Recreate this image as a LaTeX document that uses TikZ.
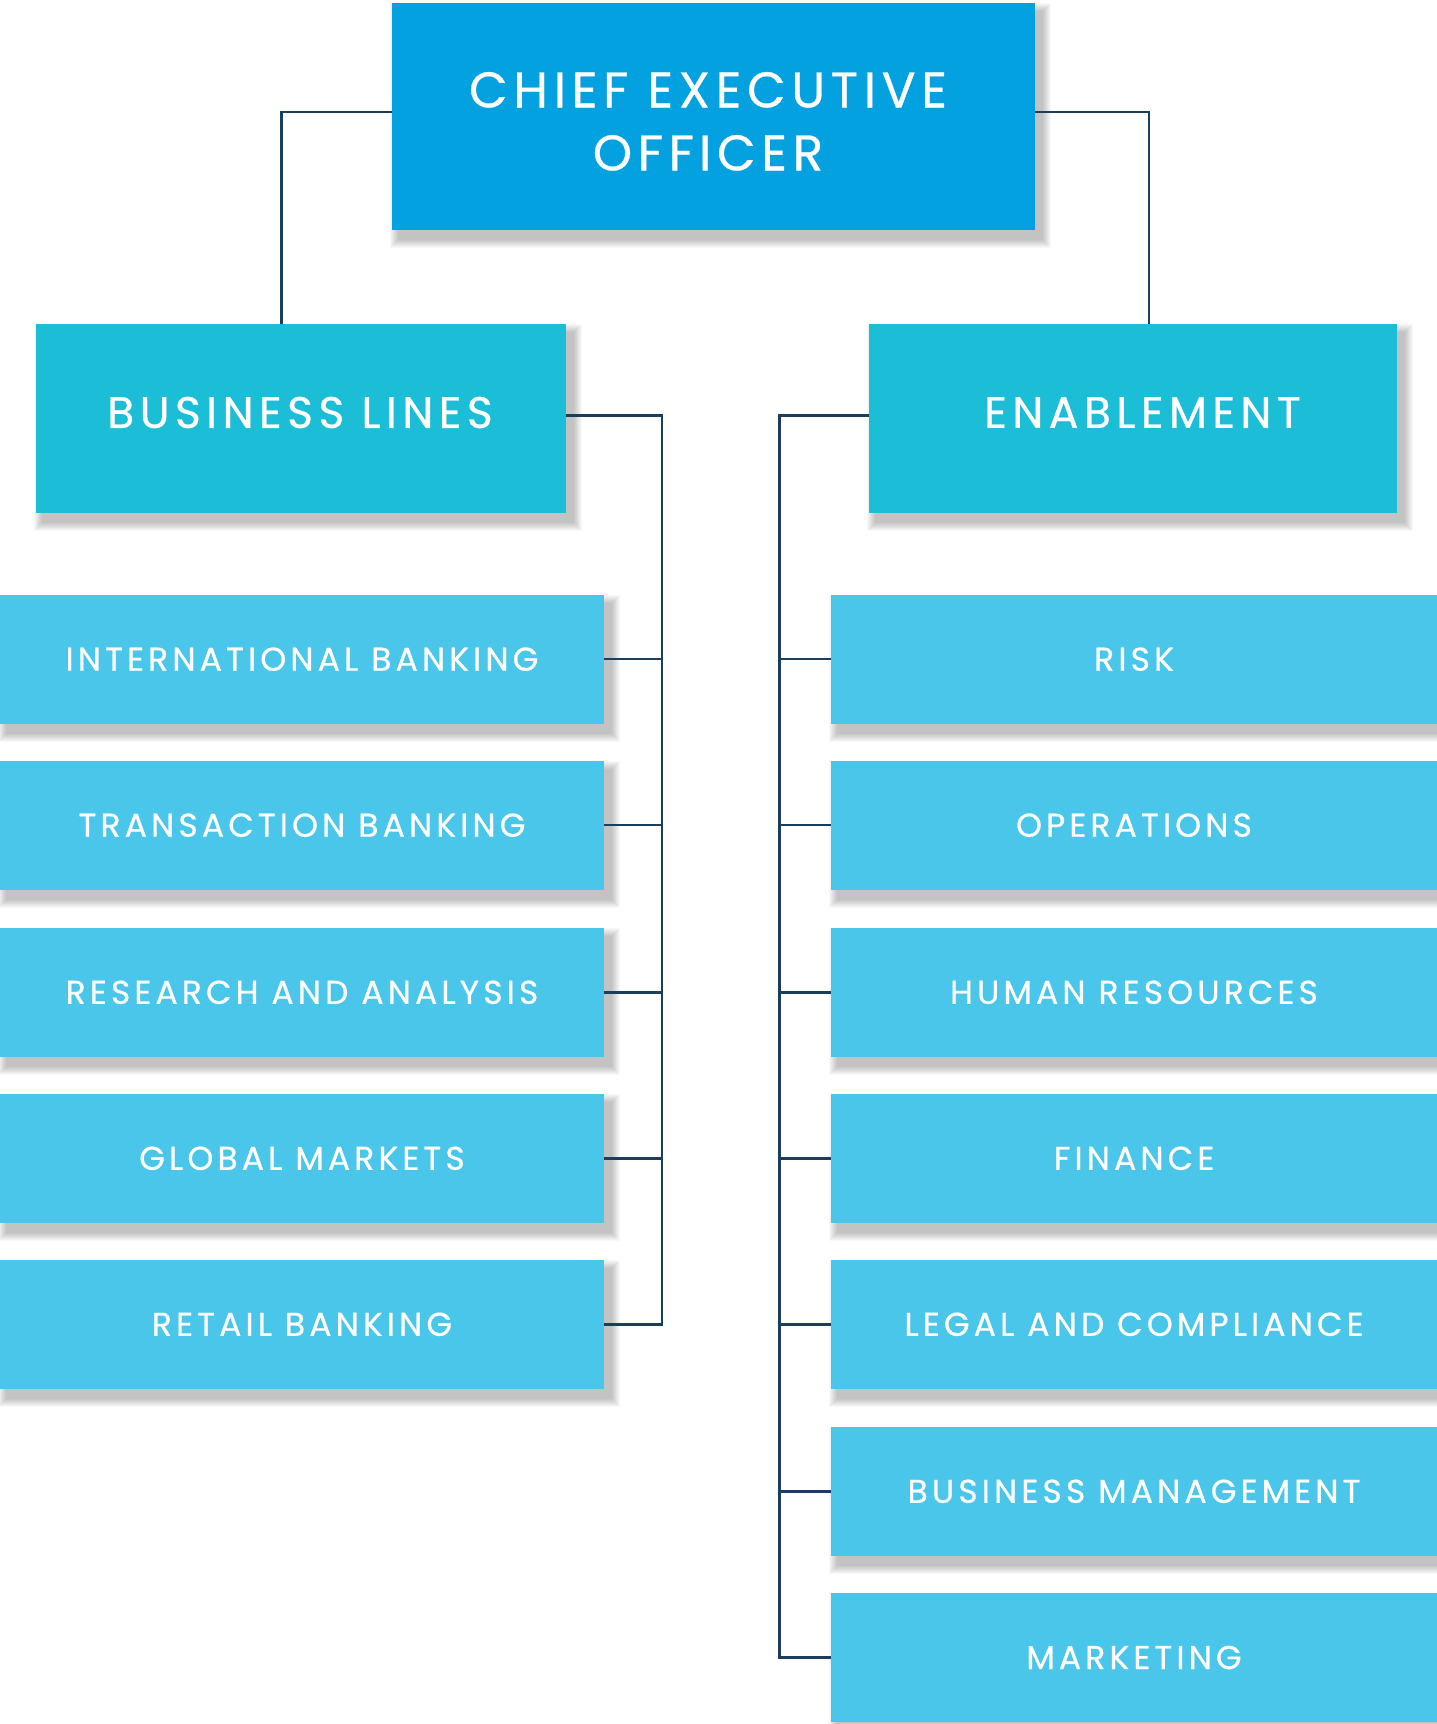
\documentclass[tikz,border=0pt]{standalone}
\usepackage{fontspec}
\setmainfont{Poppins}
\newfontfamily\lblfont{Poppins}[LetterSpace=12.5,FakeBold=0.6]
\newfontfamily\ceofont{Poppins}[LetterSpace=11.5,FakeBold=0.6]
\pgfdeclarelayer{shadowlayer}
\pgfsetlayers{shadowlayer,main}
\definecolor{ceoblue}{HTML}{03A1E0}
\definecolor{midblue}{HTML}{1CBDD6}
\definecolor{subblue}{HTML}{4AC6EA}
\definecolor{linenavy}{HTML}{1A3E5C}
\begin{document}
\begin{tikzpicture}[x=1pt,y=-1pt,
  basebox/.style={anchor=north west,inner sep=0pt,outer sep=0pt,draw=none},
  ceobox/.style={basebox,fill=ceoblue,minimum width=643pt,minimum height=227pt},
  midbox/.style={basebox,fill=midblue,minimum height=189pt},
  subbox/.style={basebox,fill=subblue,minimum height=129pt,text=white,font=\lblfont\fontsize{33}{40}\selectfont},
  bigtext/.style={text=white,inner sep=0pt,font=\lblfont\fontsize{44}{52}\selectfont},
  ceotext/.style={text=white,inner sep=0pt,align=center,font=\ceofont\fontsize{50}{63}\selectfont},
  shadowstep/.style={fill=black,fill opacity=0.026,draw=none},
  conn/.style={draw=linenavy,line width=2.5pt}]
\useasboundingbox (0,0) rectangle (1437,1724);

\node[ceobox] (ceo) at (392,3) {};
\node[ceotext] (ceot) at (708,121.4) {CHIEF EXECUTIVE\\OFF\kern5pt ICER};

\node[midbox,minimum width=530pt] (bl) at (36,324) {};
\node[bigtext] (blt) at (300,412.5) {BUSINESS LINES};
\node[midbox,minimum width=528pt] (en) at (869,324) {};
\node[bigtext] (ent) at (1142.5,412.5) {ENABLEMENT};

\foreach \n/\t/\txt in {l1/594.7/INTERNATIONAL BANKING,l2/760.7/TRANSACTION BANKING,l3/927.8/RESEARCH AND ANALYSIS,l4/1093.8/GLOBAL MARKETS,l5/1259.8/RETAIL BANKING}
  \node[subbox,minimum width=604pt] (\n) at (0,\t) {\txt};

\foreach \n/\t/\txt in {r1/594.7/RISK,r2/760.7/OPERATIONS,r3/927.8/HUMAN RESOURCES,r4/1093.8/FINANCE,r5/1259.8/LEGAL AND COMPLIANCE,r6/1426.8/BUSINESS MANAGEMENT,r7/1593/MARKETING}
  \node[subbox,minimum width=606pt] (\n) at (831,\t) {\txt};

% white page and soft drop shadows, behind the boxes
\begin{pgfonlayer}{shadowlayer}
\fill[white] (0,0) rectangle (1437,1724);
\foreach \n in {ceo,bl,en,l1,l2,l3,l4,l5,r1,r2,r3,r4,r5,r6,r7}
  \foreach \r in {1,...,9}
    \fill[shadowstep] ([xshift={(7-\r)*1pt},yshift={(\r-9)*1pt}]\n.north west)
      rectangle ([xshift={(7+\r)*1pt},yshift={(-9-\r)*1pt}]\n.south east);
\end{pgfonlayer}

\draw[conn] ([yshift=4.5pt]ceo.west) -| ([xshift=-19.5pt]bl.north);
\draw[conn] ([yshift=4.5pt]ceo.east) -| ([xshift=16pt]en.north);

\draw[conn] ([yshift=3pt]bl.east) -| ([xshift=58pt]l5.east) -- (l5.east);
\foreach \i in {1,2,3,4}
  \draw[conn] (l\i.east) -- ([xshift=58pt]l\i.east);

\draw[conn] ([yshift=3pt]en.west) -| ([xshift=-51.5pt]r7.west) -- (r7.west);
\foreach \i in {1,2,3,4,5,6}
  \draw[conn] (r\i.west) -- ([xshift=-51.5pt]r\i.west);
\end{tikzpicture}
\end{document}
